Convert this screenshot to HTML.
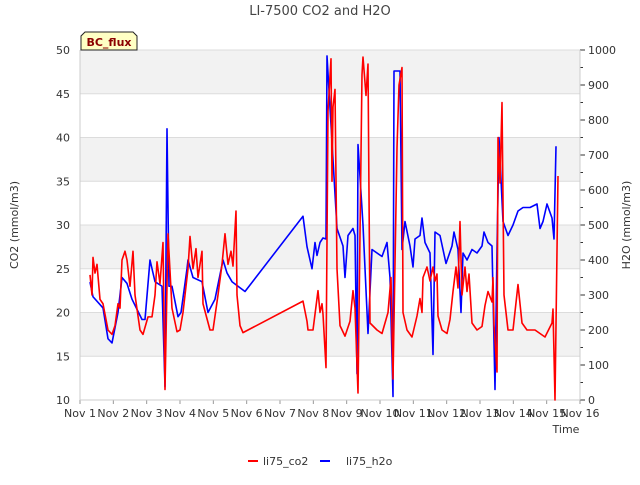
<!DOCTYPE html>
<html><head><meta charset="utf-8"><style>
body{margin:0;background:#fff;}
svg text{font-family:"DejaVu Sans","Liberation Sans",sans-serif;}
</style></head><body>
<svg id="chart" width="640" height="480" xmlns="http://www.w3.org/2000/svg">
<rect width="640" height="480" fill="#fff"/>
<g id="bands"></g>
<g id="axes"></g>
<g id="series"></g>
<text x="320" y="15" text-anchor="middle" font-size="13" fill="#444">LI-7500 CO2 and H2O</text>
<text transform="translate(18,225) rotate(-90)" text-anchor="middle" font-size="11" fill="#333">CO2 (mmol/m3)</text>
<text transform="translate(630,225) rotate(-90)" text-anchor="middle" font-size="11" fill="#333">H2O (mmol/m3)</text>
<text x="566" y="433" text-anchor="middle" font-size="11" fill="#333">Time</text>
<g>
<path d="M81,50 L81,36 L85,32 L133,32 L137,36 L137,50 Z" fill="#ffffc4" stroke="#222" stroke-width="1"/>
<text x="109" y="46" text-anchor="middle" font-size="11" font-weight="bold" fill="#8b0000">BC_flux</text>
</g>
<g>
<line x1="248" y1="461" x2="258" y2="461" stroke="#f00" stroke-width="2"/>
<text x="263" y="465" font-size="11" fill="#333">li75_co2</text>
<line x1="320" y1="461" x2="330" y2="461" stroke="#00f" stroke-width="2"/>
<text x="346" y="465" font-size="11" fill="#333">li75_h2o</text>
</g>
</svg>
<script>
const xTickLabels = ["Nov 1","Nov 2","Nov 3","Nov 4","Nov 5","Nov 6","Nov 7","Nov 8","Nov 9","Nov 10","Nov 11","Nov 12","Nov 13","Nov 14","Nov 15","Nov 16"];
const leftTicks = [10,15,20,25,30,35,40,45,50];
const rightTicks = [0,100,200,300,400,500,600,700,800,900,1000];
const co2Days = [0.30,0.36,0.39,0.45,0.51,0.60,0.69,0.84,0.96,1.05,1.14,1.20,1.26,1.35,1.41,1.50,1.59,1.65,1.80,1.89,2.04,2.16,2.25,2.31,2.40,2.49,2.55,2.64,2.76,2.91,3.00,3.09,3.24,3.30,3.39,3.48,3.54,3.66,3.69,3.90,3.99,4.14,4.26,4.35,4.44,4.53,4.59,4.68,4.71,4.80,4.89,6.69,6.81,6.84,6.99,7.05,7.14,7.20,7.26,7.29,7.38,7.44,7.53,7.56,7.59,7.65,7.71,7.80,7.95,8.10,8.19,8.25,8.34,8.46,8.49,8.58,8.64,8.70,8.91,9.06,9.15,9.24,9.33,9.39,9.51,9.57,9.66,9.69,9.81,9.96,10.11,10.20,10.26,10.29,10.41,10.50,10.59,10.65,10.71,10.74,10.86,11.01,11.10,11.19,11.28,11.34,11.40,11.46,11.55,11.61,11.67,11.76,11.91,12.06,12.15,12.24,12.36,12.39,12.42,12.51,12.54,12.60,12.66,12.72,12.84,12.99,13.14,13.26,13.41,13.65,13.80,13.95,14.16,14.19,14.25,14.34];
const co2Values = [24.3,22,26.3,24.5,25.5,21.5,21,18,17.5,18.5,21,20.5,26,27,26,23,27,22,18,17.5,19.5,19.5,22,25.8,23.3,28,11.2,29,20.5,17.8,18,20,25,28.7,25,27.3,24,27,21,18,18,22,25.5,29,25.5,27,25.3,31.6,22,18.5,17.7,21.3,19,18,18,19.8,22.5,20,21,19.8,13.7,43,49,35,43.5,45.5,25,18.5,17.3,19,22.5,20.5,10.8,47.2,49.2,44.8,48.4,18.8,18,17.6,18.8,20,24,12.4,38.8,46,48,20,18,17.2,19.6,21.6,20,24,25.2,23.6,25.2,23.6,24.4,19.6,18,17.6,19.2,22.4,25.2,22.8,30.4,22,25.2,22.4,24.4,18.8,18,18.4,20.8,22.4,21.2,24,18.6,13.2,40,34.8,44,22,18,18,23.2,18.8,18,18,17.6,17.2,18.8,20.4,10,35.6];
const h2oDays = [0.30,0.39,0.69,0.84,0.96,1.14,1.26,1.41,1.56,1.86,1.95,2.10,2.25,2.46,2.55,2.61,2.67,2.76,2.94,3.03,3.21,3.24,3.39,3.66,3.84,4.05,4.29,4.41,4.56,4.74,4.95,6.69,6.81,6.96,7.05,7.11,7.20,7.29,7.38,7.41,7.71,7.89,7.95,8.04,8.19,8.25,8.31,8.34,8.49,8.64,8.76,9.06,9.21,9.30,9.39,9.42,9.60,9.66,9.75,9.90,9.99,10.05,10.20,10.26,10.35,10.50,10.59,10.65,10.80,10.98,11.16,11.22,11.34,11.43,11.49,11.61,11.76,11.91,12.06,12.12,12.24,12.36,12.45,12.51,12.57,12.69,12.84,12.99,13.14,13.29,13.50,13.71,13.80,13.89,14.01,14.16,14.22,14.28];
const h2oValues = [337,295,263,175,163,250,350,333,288,230,230,400,338,325,38,775,325,325,238,250,375,400,350,338,250,288,400,363,338,325,310,525,438,375,450,413,450,463,460,983,490,440,350,470,490,470,75,730,500,190,430,410,450,350,10,940,940,430,510,440,380,460,470,520,450,420,130,480,470,390,440,480,430,250,420,400,430,420,440,480,450,440,30,430,750,510,470,500,540,550,550,560,490,510,560,520,460,725];

const L=80,R=580,T=50,B=400;
const xScale=d=>L+(R-L)*d/15;
const yLeft=v=>B-(B-T)*(v-10)/40;
const yRight=v=>B-(B-T)*v/1000;
const NS="http://www.w3.org/2000/svg";
function mk(tag,attrs,parent){const e=document.createElementNS(NS,tag);for(const k in attrs)e.setAttribute(k,attrs[k]);parent.appendChild(e);return e;}
const bands=document.getElementById('bands'),axes=document.getElementById('axes'),series=document.getElementById('series');
for(let i=0;i<leftTicks.length-1;i++){
  if(i%2===1){const r=mk('rect',{x:L,y:yLeft(leftTicks[i+1]),width:R-L,height:yLeft(leftTicks[i])-yLeft(leftTicks[i+1]),fill:'#f2f2f2'},bands);
  
  }
}
leftTicks.forEach(v=>{
  const g=mk('line',{x1:L,x2:R,y1:yLeft(v),y2:yLeft(v),stroke:'#dcdcdc','stroke-width':1},axes);
  
  
  const t=mk('text',{x:L-10,y:yLeft(v)+4,'text-anchor':'end','font-size':11,fill:'#333'},axes);t.textContent=v;
  
  
});
rightTicks.forEach(v=>{
  mk('line',{x1:R,x2:R+5,y1:yRight(v),y2:yRight(v),stroke:'#333'},axes);
  mk('line',{x1:R,x2:R+3,y1:yRight(v+50),y2:yRight(v+50),stroke:'#333'},axes).setAttribute('opacity',v<1000?1:0);
  const t=mk('text',{x:R+8,y:yRight(v)+4,'font-size':11,fill:'#333'},axes);t.textContent=v;
  
  
});
xTickLabels.forEach((s,i)=>{
  mk('line',{x1:xScale(i),x2:xScale(i),y1:B,y2:B+4,stroke:'#999'},axes);
  const t=mk('text',{x:xScale(i),y:B+17,'text-anchor':'middle','font-size':11,fill:'#333'},axes);t.textContent=s;
  
  
});
mk('line',{x1:L,x2:L,y1:T,y2:B,stroke:'#ccc'},axes);
mk('line',{x1:R,x2:R,y1:T,y2:B,stroke:'#ccc'},axes);
mk('line',{x1:L,x2:R,y1:B,y2:B,stroke:'#ccc'},axes);
const co2=mk('polyline',{points:co2Days.map((d,i)=>xScale(d)+','+yLeft(co2Values[i])).join(' '),fill:'none',stroke:'#f00','stroke-width':1.6,'stroke-linejoin':'round'},series);


const h2o=mk('polyline',{points:h2oDays.map((d,i)=>xScale(d)+','+yRight(h2oValues[i])).join(' '),fill:'none',stroke:'#00f','stroke-width':1.6,'stroke-linejoin':'round'},series);


series.insertBefore(h2o,co2);
</script>
</body></html>
